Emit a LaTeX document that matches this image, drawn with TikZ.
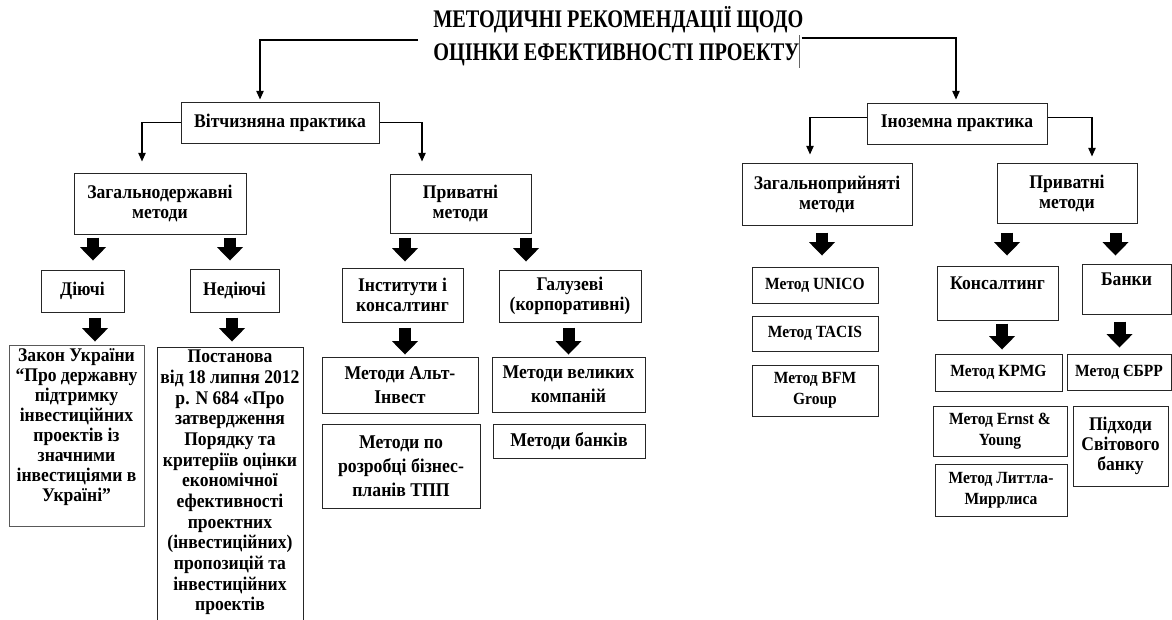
\documentclass[tikz,border=0pt]{standalone}
\usepackage{fontspec}
\setmainfont{Liberation Serif}
\newfontfamily\boxfont[FakeStretch=0.91]{Liberation Serif}
\newfontfamily\titlefont[FakeStretch=0.8]{Liberation Serif}
\usetikzlibrary{arrows.meta,calc}

\tikzset{
  % sizes are given in pixels of the source picture
  sized/.style 2 args={minimum width=#1*0.75pt, minimum height=#2*0.75pt},
  box/.style={draw=black!85, line width=0.75pt, align=center, inner sep=0pt,
    font=\boxfont\bfseries\fontsize{14.5}{15}\selectfont},
  widebox/.style={box, font=\boxfont\bfseries\fontsize{14.6}{18}\selectfont},
  methodbox/.style={box, font=\boxfont\bfseries\fontsize{12.8}{16}\selectfont},
  boxtext/.style={align=center, inner sep=2.5pt, font=\boxfont\bfseries\fontsize{14.5}{15}\selectfont},
  link/.style={line width=1.1pt, -{Triangle[width=5.5pt,length=6.5pt]}},
  fatarrow/.style={line width=9pt, -{Triangle[width=19.5pt,length=10pt,line width=0pt]}},
}

\begin{document}
\begin{tikzpicture}[x=0.75pt, y=-0.75pt]
\useasboundingbox (0,0) rectangle (1172,619);

% Title
\node[anchor=west, inner sep=0pt, align=left, font=\titlefont\bfseries\fontsize{19}{24.75}\selectfont] (title) at (433,37)
  {МЕТОДИЧНІ РЕКОМЕНДАЦІЇ ЩОДО\\ОЦІНКИ ЕФЕКТИВНОСТІ ПРОЕКТУ\textcolor{black!60}{\rule[-0.3em]{0.4pt}{1.3em}}};

% Practice
\node[box, sized={198}{41}] (vit) at (280,122.5) {Вітчизняна практика};
\node[box, sized={180}{41}] (ino) at (957,123.5) {Іноземна практика};

% Groups of methods
\node[box, sized={172}{61}] (zagd) at (160,203.5) {Загальнодержавні\\методи};
\node[box, sized={141}{59}] (privL) at (460.5,203.5) {Приватні\\методи};
\node[box, sized={170}{62}] (zagp) at (827,194) {Загальноприйняті\\методи};
\node[box, sized={140}{60}] (privR) at (1067,193) {Приватні\\методи};

% Kinds
\node[box, sized={83}{42}] (diyuchi) at (82.5,291) {Діючі};
\node[box, sized={89}{43}] (nediyuchi) at (234.5,290.5) {Недіючі};
\node[box, sized={121}{54}] (inst) at (402.5,295) {Інститути і\\консалтинг};
\node[box, sized={142}{52}] (galuz) at (570,296) {Галузеві\\(корпоративні)};
\node[methodbox, sized={126}{36}] (unico) at (815,285) {Метод UNICO};
\node[methodbox, sized={126}{35}] (tacis) at (815,333.5) {Метод TACIS};
\node[methodbox, sized={126}{51}] (bfm) at (815,390.5) {Метод BFM\\Group};
\node[box, sized={121}{54}] (kons) at (997.5,293) {Консалтинг\\~};
\node[box, sized={89}{50}] (banky) at (1126.5,289) {Банки\\~};

% Documents and methods
\node[box, draw=black!65, sized={135}{181}] (zakon) at (76.5,435.5) {};
\node[boxtext, anchor=north] (zakontext) at (zakon.north)
  {Закон України\\“Про державну\\підтримку\\інвестиційних\\проектів із\\значними\\інвестиціями в\\Україні”};
\node[box, sized={146}{300}] (postanova) at (230,497) {}; % runs off the page
\node[boxtext, anchor=north, font=\boxfont\bfseries\fontsize{14.5}{15.5}\selectfont] (postanovatext) at (postanova.north)
  {Постанова\\від 18 липня 2012\\р. N 684 «Про\\затвердження\\Порядку та\\критеріїв оцінки\\економічної\\ефективності\\проектних\\(інвестиційних)\\пропозицій та\\інвестиційних\\проектів};
\node[widebox, sized={156}{56}] (alt) at (400,385) {Методи Альт-\\Інвест};
\node[widebox, sized={158}{84}] (rozrob) at (401,466) {Методи по\\розробці бізнес-\\планів ТПП};
\node[widebox, sized={153}{55}] (velyk) at (568.5,384.5) {Методи великих\\компаній};
\node[widebox, sized={152}{34}] (bankiv) at (569,441) {Методи банків};
\node[methodbox, sized={127}{37}] (kpmg) at (998.5,372.5) {Метод KPMG};
\node[methodbox, sized={104}{36}] (ebrr) at (1119,372) {Метод ЄБРР};
\node[methodbox, sized={134}{50}] (ernst) at (1000,431) {Метод Ernst \&\\Young};
\node[methodbox, sized={132}{52}] (littl) at (1001,490) {Метод Литтла-\\Миррлиса};
\node[box, sized={95}{80}] (pidkh) at (1120.5,446) {Підходи\\Світового\\банку};

% Thin connectors
\draw[link] ($(title.west)+(-15,3)$) -| ($(vit.north)+(-20,-2)$);
\draw[link] ($(title.east)+(-2,1)$) -| ($(ino.north)+(-1,-3)$);
\draw[link] (vit.west) -| ($(zagd.north)+(-18,-11)$);
\draw[link] (vit.east) -| ($(privL.north)+(-38.5,-12)$);
\draw[link] ($(ino.west)+(0,-6)$) -| ($(zagp.north)+(-17,-8)$);
\draw[link] ($(ino.east)+(0,-6)$) -| ($(privR.north)+(25,-6)$);

% Block arrows
\foreach \src/\dst/\dx/\ga/\gb in {zagd/diyuchi/10.5/3/9, zagd/nediyuchi/-4.5/3/8,
    diyuchi/zakon/18.5/5/3, nediyuchi/postanova/2/5/5, privL/inst/2.5/4/6,
    privL/galuz/-44/4/8, inst/alt/5/5/2, galuz/velyk/0/5/2, zagp/unico/7/7/11,
    privR/kons/9.5/9/10, privR/banky/-11/9/8, kons/kpmg/3.5/3/4, banky/ebrr/0.5/7/6}
  \draw[fatarrow] ($(\dst.north |- \src.south)+(\dx,\ga)$) -- ($(\dst.north)+(\dx,-\gb)$);

\end{tikzpicture}
\end{document}
